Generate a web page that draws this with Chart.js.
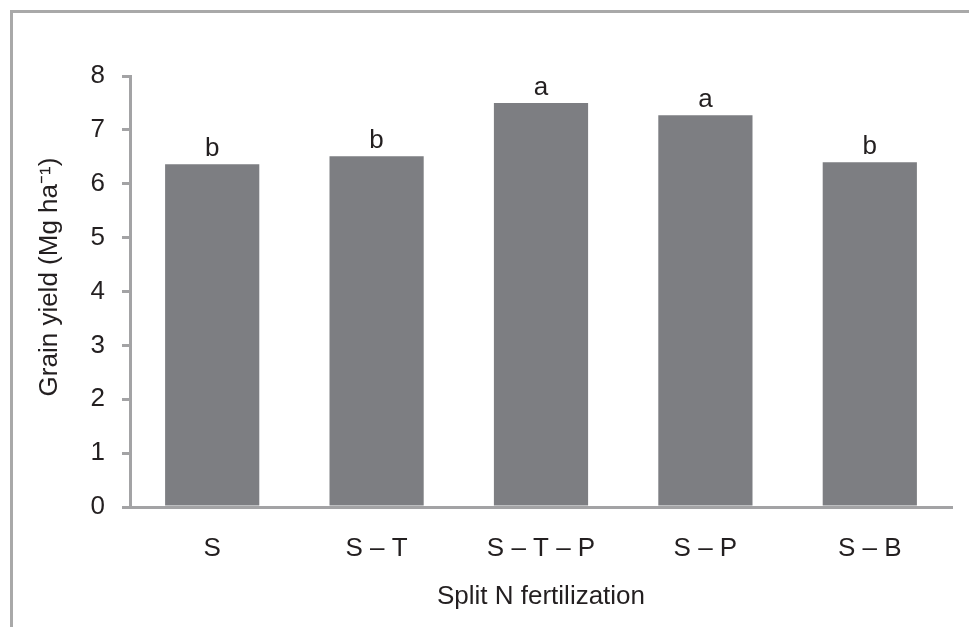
<!DOCTYPE html>
<html lang="en">

<head>
    <meta charset="UTF-8">
    <title>Grain yield by split N fertilization</title>
    <script src="https://cdn.jsdelivr.net/npm/chart.js"></script>
    <style>
        body { margin: 0; background: #fff; }
        .frame {
            position: absolute; left: 10px; top: 10px; width: 1000px; height: 700px;
            border-left: 3px solid #a9a9a9; border-top: 3px solid #a9a9a9;
        }
        canvas { position: absolute; left: 0; top: 0; }
    </style>
</head>

<body>
    <div class="frame"></div>
    <canvas id="yieldChart" width="969" height="627"></canvas>

    <script>
        // data
        const treatments = ['S', 'S \u2013 T', 'S \u2013 T \u2013 P', 'S \u2013 P', 'S \u2013 B'];
        const grainYield = [6.36, 6.51, 7.50, 7.27, 6.40];
        const letters = ['b', 'b', 'a', 'a', 'b'];
        const yTicks = [0, 1, 2, 3, 4, 5, 6, 7, 8];

        const axisGray = '#a3a3a5';
        const textColor = '#231f20';
        const fontFamily = '"Liberation Sans", Arial, sans-serif';

        // significance letters above each bar
        const letterPlugin = {
            id: 'letters',
            afterDatasetsDraw(chart) {
                const ctx = chart.ctx;
                const meta = chart.getDatasetMeta(0);
                ctx.save();
                ctx.font = '26px ' + fontFamily;
                ctx.fillStyle = textColor;
                ctx.textAlign = 'center';
                ctx.textBaseline = 'alphabetic';
                meta.data.forEach(function (bar, i) {
                    ctx.fillText(letters[i], bar.x, bar.y - 8);
                });
                ctx.restore();
            }
        };

        let ctx = document.getElementById('yieldChart').getContext('2d');
        let yieldChart = new Chart(ctx, {
            type: 'bar',
            data: {
                labels: treatments,
                datasets: [{
                    data: grainYield,
                    backgroundColor: '#7d7e82',
                    borderWidth: 0,
                    categoryPercentage: 1,
                    barPercentage: 0.573
                }]
            },
            options: {
                responsive: false,
                animation: false,
                layout: { padding: { left: 0, top: 76, right: 17, bottom: 0 } },
                plugins: {
                    legend: { display: false },
                    tooltip: { enabled: false }
                },
                scales: {
                    x: {
                        afterFit: function (scale) { scale.height = 120; },
                        grid: { display: false, drawTicks: false },
                        border: { display: true, color: axisGray, width: 3 },
                        ticks: {
                            padding: 26,
                            color: textColor,
                            font: { family: fontFamily, size: 26 }
                        },
                        title: {
                            display: true,
                            text: 'Split N fertilization',
                            color: textColor,
                            font: { family: fontFamily, size: 26 },
                            padding: { top: 0, bottom: 15 }
                        }
                    },
                    y: {
                        min: 0,
                        max: 8,
                        afterFit: function (scale) { scale.width = 130; },
                        afterBuildTicks: function (scale) {
                            scale.ticks = yTicks.map(v => ({ value: v }));
                        },
                        grid: {
                            drawOnChartArea: false,
                            drawTicks: true,
                            tickLength: 8,
                            color: axisGray,
                            lineWidth: 3
                        },
                        border: { display: true, color: axisGray, width: 3 },
                        ticks: {
                            padding: 17,
                            color: textColor,
                            font: { family: fontFamily, size: 26 }
                        },
                        title: {
                            display: true,
                            text: '    Grain yield (Mg ha\u207B\u00B9)',
                            color: textColor,
                            font: { family: fontFamily, size: 26 },
                            padding: { top: 34, bottom: 0 }
                        }
                    }
                }
            },
            plugins: [letterPlugin]
        });
    </script>

</body>

</html>
